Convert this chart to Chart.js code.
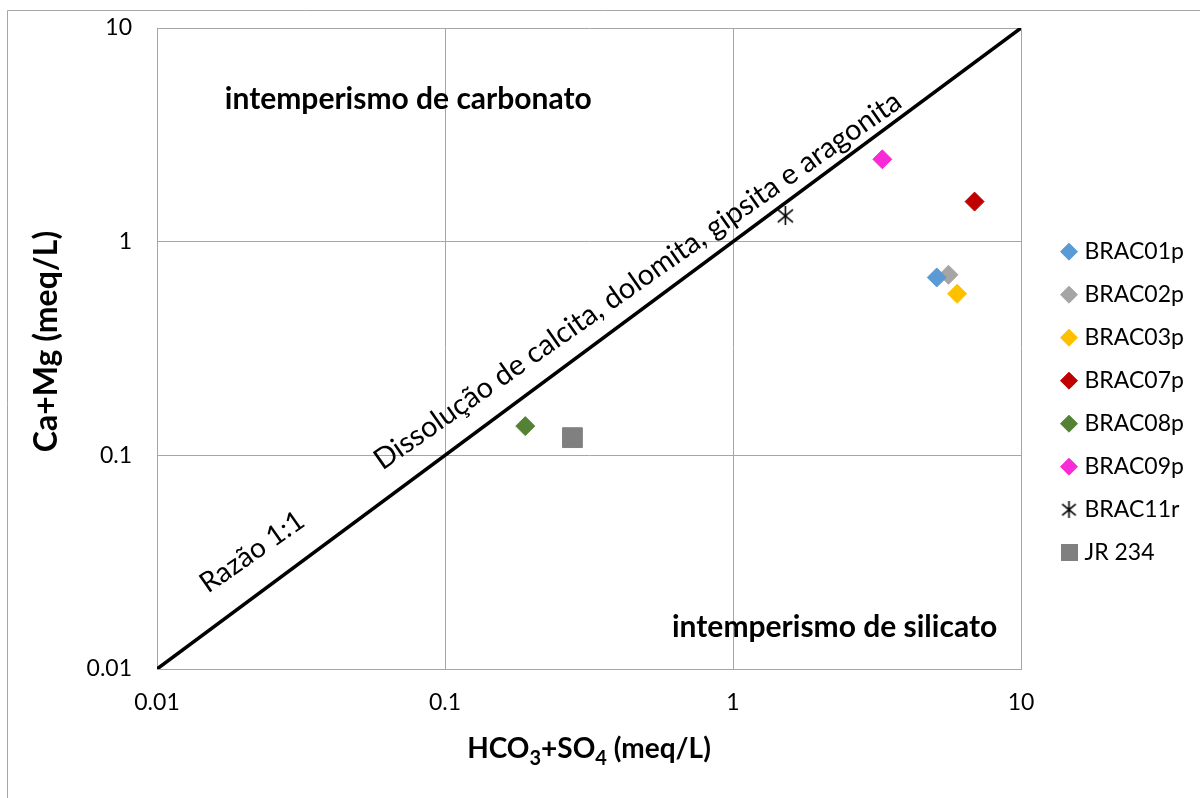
<!DOCTYPE html>
<html lang="pt">
<head>
<meta charset="utf-8">
<title>Ca+Mg vs HCO3+SO4</title>
<script src="https://cdn.jsdelivr.net/npm/chart.js@4.4.1/dist/chart.umd.min.js"></script>
<style>
  html, body { margin: 0; padding: 0; background: #fff; }
  #wrap { position: relative; width: 1200px; height: 798px; }
</style>
</head>
<body>
<div id="wrap"><canvas id="c" width="1200" height="798"></canvas></div>
<script>
// ---- data ----
const sampleNames = ['BRAC01p', 'BRAC02p', 'BRAC03p', 'BRAC07p', 'BRAC08p', 'BRAC09p', 'BRAC11r', 'JR 234'];
const hco3PlusSo4 = [5.1, 5.6, 6.0, 6.9, 0.19, 3.3, 1.52, 0.277];   // meq/L
const caPlusMg    = [0.68, 0.70, 0.57, 1.54, 0.137, 2.43, 1.32, 0.121]; // meq/L
const ratioLine   = [[0.01, 0.01], [10, 10]];                          // 1:1 reference
const axisTicks      = [0.01, 0.1, 1, 10];
const axisTickLabels = ['0.01', '0.1', '1', '10'];

const yTitle = 'Ca+Mg (meq/L)';
const xTitleParts = [['HCO', false], ['3', true], ['+SO', false], ['4', true], [' (meq/L)', false]];

// notes placed in data coordinates
const regionNotes = [
  { text: 'intemperismo de carbonato', x: 0.0172, y: 4.65, bold: true, align: 'left', angle: 0, size: 30 },
  { text: 'intemperismo de silicato', x: 0.614, y: 0.0157, bold: true, align: 'left', angle: 0, size: 30 },
  { text: 'Razão 1:1', x: 0.0214, y: 0.0353, bold: false, align: 'center', angle: -35, size: 28 },
  { text: 'Dissolução de calcita, dolomita, gipsita e aragonita', x: 0.4665, y: 0.656, bold: false, align: 'center', angle: -35, size: 29 }
];

// ---- styles ----
const FONT = 'Lato, "Open Sans", sans-serif';
const GRID = '#a6a6a6';

function starMarker(size) {
  const c = document.createElement('canvas');
  c.width = size; c.height = size;
  const g = c.getContext('2d');
  g.strokeStyle = '#000';
  g.lineWidth = 1.6;
  const m = size / 2;
  g.beginPath();
  g.moveTo(m, 0); g.lineTo(m, size);
  g.moveTo(size * 0.1, size * 0.17); g.lineTo(size * 0.9, size * 0.83);
  g.moveTo(size * 0.9, size * 0.17); g.lineTo(size * 0.1, size * 0.83);
  g.stroke();
  return c;
}
function squareMarker(size, color) {
  const c = document.createElement('canvas');
  c.width = size; c.height = size;
  const g = c.getContext('2d');
  g.fillStyle = color;
  g.fillRect(0, 0, size, size);
  return c;
}

const markerStyles = {
  'BRAC01p': { color: '#5B9BD5', point: 'rectRot', radius: 9.5 },
  'BRAC02p': { color: '#A5A5A5', point: 'rectRot', radius: 9.5 },
  'BRAC03p': { color: '#FFC000', point: 'rectRot', radius: 9.5 },
  'BRAC07p': { color: '#C00000', point: 'rectRot', radius: 9.5 },
  'BRAC08p': { color: '#548235', point: 'rectRot', radius: 9.5 },
  'BRAC09p': { color: '#F92BD6', point: 'rectRot', radius: 9.5 },
  'BRAC11r': { color: '#000000', point: starMarker(19), radius: 9, legend: starMarker(17) },
  'JR 234':  { color: '#808080', point: 'rect', radius: 14, legend: squareMarker(17, '#808080') }
};

const datasets = sampleNames.map((name, i) => {
  const st = markerStyles[name];
  return {
    label: name,
    data: [{ x: hco3PlusSo4[i], y: caPlusMg[i] }],
    pointStyle: st.point,
    pointRadius: st.radius,
    pointHoverRadius: st.radius,
    backgroundColor: st.color,
    borderColor: st.color,
    pointBorderWidth: 1,
    legendMarker: st.legend
  };
});
datasets.push({
  label: 'Razão 1:1',
  data: ratioLine.map(([x, y]) => ({ x, y })),
  showLine: true,
  borderColor: '#000',
  borderWidth: 3.5,
  pointRadius: 0,
  hideInLegend: true
});

// ---- plugins ----
const outerFrame = {
  id: 'outerFrame',
  beforeDraw(chart) {
    const ctx = chart.ctx;
    ctx.save();
    ctx.strokeStyle = GRID;
    ctx.lineWidth = 1;
    ctx.beginPath();
    ctx.moveTo(7.5, chart.height);
    ctx.lineTo(7.5, 10.5);
    ctx.lineTo(chart.width, 10.5);
    ctx.stroke();
    ctx.restore();
  }
};

const legendPlacement = {
  id: 'legendPlacement',
  beforeLayout(chart) {
    const lg = chart.legend;
    if (lg && !lg._widthLocked) {
      const fit = lg.fit;
      lg.fit = function () { fit.call(this); this.width = 179; };
      lg._widthLocked = true;
    }
  },
  afterLayout(chart) {
    const lg = chart.legend;
    const pad = lg.options.labels.padding;
    lg.left = 1065 - pad;
    lg.right = chart.width;
    lg.top = 240.2 - pad;
    lg.bottom = chart.height;
  }
};

const notes = {
  id: 'notes',
  afterDatasetsDraw(chart) {
    const { ctx, scales } = chart;
    ctx.save();
    ctx.fillStyle = '#000';
    regionNotes.forEach(n => {
      const px = scales.x.getPixelForValue(n.x);
      const py = scales.y.getPixelForValue(n.y);
      ctx.save();
      ctx.translate(px, py);
      ctx.rotate(n.angle * Math.PI / 180);
      ctx.font = `${n.bold ? 'bold ' : ''}${n.size}px ${FONT}`;
      ctx.textAlign = n.align;
      ctx.textBaseline = 'middle';
      ctx.fillText(n.text, 0, 0);
      ctx.restore();
    });
    ctx.restore();
  }
};

const axisTitles = {
  id: 'axisTitles',
  afterDraw(chart) {
    const { ctx, chartArea } = chart;
    ctx.save();
    ctx.fillStyle = '#000';
    // vertical title
    ctx.font = `bold 32px ${FONT}`;
    ctx.translate(47, (chartArea.top + chartArea.bottom) / 2 - 7);
    ctx.rotate(-Math.PI / 2);
    ctx.textAlign = 'center';
    ctx.textBaseline = 'middle';
    ctx.fillText(yTitle, 0, 0);
    ctx.restore();

    // horizontal title with subscripts
    ctx.save();
    ctx.fillStyle = '#000';
    ctx.textAlign = 'left';
    ctx.textBaseline = 'alphabetic';
    const mainSize = 28, subSize = 20, baseY = 758;
    let total = 0;
    xTitleParts.forEach(([t, sub]) => {
      ctx.font = `bold ${sub ? subSize : mainSize}px ${FONT}`;
      total += ctx.measureText(t).width;
    });
    let x = (chartArea.left + chartArea.right) / 2 - total / 2;
    xTitleParts.forEach(([t, sub]) => {
      ctx.font = `bold ${sub ? subSize : mainSize}px ${FONT}`;
      ctx.fillText(t, x, sub ? baseY + 7 : baseY);
      x += ctx.measureText(t).width;
    });
    ctx.restore();
  }
};

// ---- chart ----
function logAxis(isX) {
  return {
    type: 'logarithmic',
    position: isX ? 'bottom' : 'left',
    min: 0.01,
    max: 10,
    afterBuildTicks(scale) { scale.ticks = axisTicks.map(v => ({ value: v })); },
    afterFit(scale) {
      if (isX) {
        scale.height = 129;
      } else {
        scale.width = 157;
        // end labels may overhang the plot edges
        scale.paddingTop = 0;
        scale.paddingBottom = 0;
      }
    },
    grid: { color: GRID, lineWidth: 1, drawTicks: false },
    border: { display: true, color: GRID, width: 1 },
    ticks: {
      autoSkip: false,
      maxRotation: 0,
      padding: isX ? 20 : 25,
      color: '#000',
      font: { family: FONT, size: 23 },
      callback: (v) => {
        const k = axisTicks.findIndex(t => Math.abs(t - v) < t * 1e-6);
        return k >= 0 ? axisTickLabels[k] : '';
      }
    },
    title: { display: false }
  };
}

new Chart(document.getElementById('c'), {
  type: 'scatter',
  data: { datasets },
  options: {
    responsive: false,
    devicePixelRatio: 1,
    animation: false,
    events: [],
    layout: { padding: { top: 28, left: 0, right: 0, bottom: 0 } },
    scales: { x: logAxis(true), y: logAxis(false) },
    plugins: {
      tooltip: { enabled: false },
      legend: {
        position: 'right',
        align: 'start',
        labels: {
          usePointStyle: true,
          boxWidth: 8,
          boxHeight: 12,
          padding: 20,
          color: '#000',
          font: { family: FONT, size: 23 },
          filter: (item, data) => !data.datasets[item.datasetIndex].hideInLegend,
          generateLabels(chart) {
            const items = Chart.defaults.plugins.legend.labels.generateLabels(chart);
            items.forEach(it => {
              const ds = chart.data.datasets[it.datasetIndex];
              if (ds.legendMarker) it.pointStyle = ds.legendMarker;
            });
            return items;
          }
        }
      }
    }
  },
  plugins: [outerFrame, legendPlacement, notes, axisTitles]
});
</script>
</body>
</html>
